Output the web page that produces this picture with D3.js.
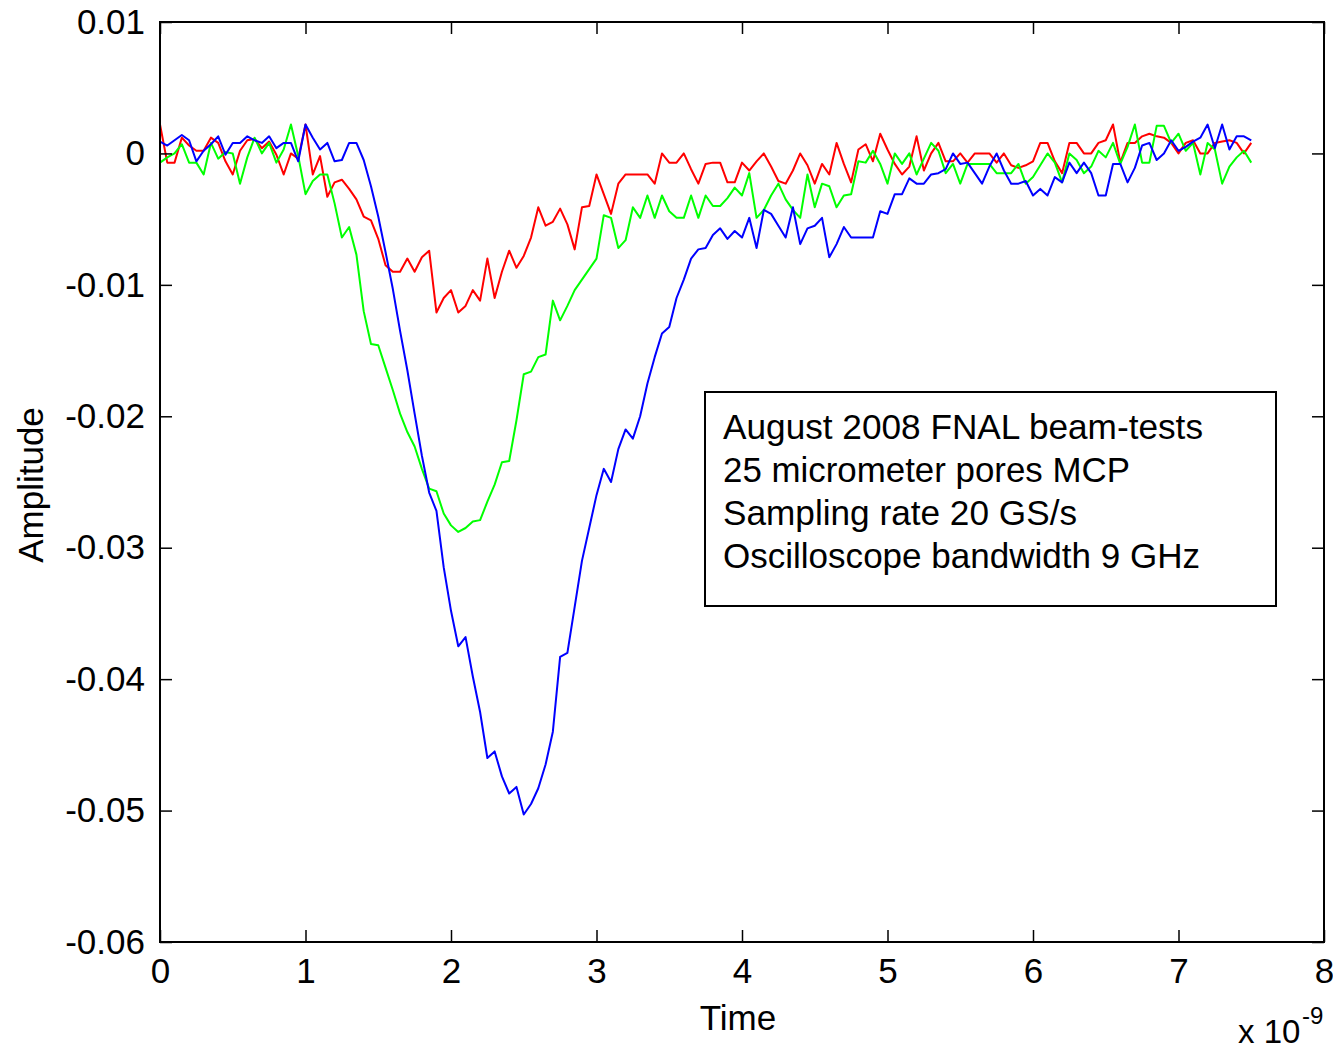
<!DOCTYPE html>
<html><head><meta charset="utf-8">
<script src="https://cdn.jsdelivr.net/npm/d3@7"></script>
<style>
body{margin:0;background:#fff}
svg{display:block}
text{font-family:"Liberation Sans",Arial,sans-serif;fill:#000}
</style>
</head><body>
<svg id="chart" width="1333" height="1052"></svg>
<script>
// ---- data ----
const sampleIntervalNs = 0.05; // 20 GS/s
const xTickValues = [0,1,2,3,4,5,6,7,8];
const yTickValues = [-0.06,-0.05,-0.04,-0.03,-0.02,-0.01,0,0.01];
const legendLines = ["August 2008 FNAL beam-tests","25 micrometer pores MCP","Sampling rate 20 GS/s","Oscilloscope bandwidth 9 GHz"];
const seriesColors = ["#ff0000","#00ff00","#0000ff"];

const redValues = [0.0022,-0.0007,-0.0007,0.0012,0.0006,0.0002,0.0002,0.0012,0.0008,-0.0006,
 -0.0016,0.0002,0.0010,0.0011,0.0004,0.0009,-0.0001,-0.0016,0.0000,-0.0004,
 0.0022,-0.0016,-0.0002,-0.0033,-0.0022,-0.0020,-0.0027,-0.0035,-0.0048,-0.0051,
 -0.0065,-0.0085,-0.0090,-0.0090,-0.0080,-0.0090,-0.0079,-0.0074,-0.0121,-0.0110,
 -0.0104,-0.0121,-0.0116,-0.0104,-0.0112,-0.0080,-0.0110,-0.0090,-0.0074,-0.0087,
 -0.0078,-0.0064,-0.0041,-0.0055,-0.0052,-0.0042,-0.0054,-0.0073,-0.0041,-0.0040,
 -0.0016,-0.0031,-0.0046,-0.0023,-0.0016,-0.0016,-0.0016,-0.0016,-0.0023,0.0000,
 -0.0007,-0.0007,0.0000,-0.0012,-0.0023,-0.0008,-0.0007,-0.0007,-0.0022,-0.0022,
 -0.0007,-0.0013,-0.0006,0.0000,-0.0010,-0.0021,-0.0023,-0.0013,0.0000,-0.0009,
 -0.0023,-0.0008,-0.0016,0.0008,-0.0008,-0.0022,0.0003,0.0007,-0.0006,0.0015,
 0.0003,-0.0008,-0.0016,-0.0010,0.0013,-0.0013,0.0000,0.0008,-0.0006,-0.0006,
 0.0000,-0.0007,0.0000,0.0000,0.0000,-0.0007,0.0000,-0.0009,-0.0011,-0.0009,
 -0.0006,0.0008,0.0008,-0.0006,-0.0015,0.0008,0.0008,0.0000,0.0000,0.0008,
 0.0010,0.0022,-0.0007,0.0008,0.0008,0.0013,0.0015,0.0013,0.0012,0.0008,
 0.0000,0.0008,0.0010,0.0000,0.0000,0.0008,0.0009,0.0010,0.0008,0.0000,
 0.0008];

const greenValues = [-0.0007,-0.0003,0.0000,0.0007,-0.0007,-0.0007,-0.0016,0.0008,-0.0004,0.0001,
 0.0000,-0.0023,-0.0003,0.0012,0.0000,0.0008,-0.0007,0.0003,0.0022,-0.0002,
 -0.0031,-0.0021,-0.0016,-0.0016,-0.0038,-0.0064,-0.0056,-0.0077,-0.0120,-0.0145,
 -0.0146,-0.0163,-0.0180,-0.0198,-0.0212,-0.0223,-0.0240,-0.0255,-0.0257,-0.0274,
 -0.0283,-0.0288,-0.0285,-0.0280,-0.0279,-0.0265,-0.0252,-0.0235,-0.0234,-0.0203,
 -0.0168,-0.0166,-0.0155,-0.0153,-0.0112,-0.0127,-0.0116,-0.0104,-0.0096,-0.0088,
 -0.0080,-0.0047,-0.0049,-0.0072,-0.0066,-0.0041,-0.0049,-0.0032,-0.0049,-0.0032,
 -0.0044,-0.0049,-0.0049,-0.0032,-0.0049,-0.0032,-0.0040,-0.0040,-0.0034,-0.0026,
 -0.0032,-0.0015,-0.0049,-0.0043,-0.0032,-0.0023,-0.0035,-0.0043,-0.0049,-0.0016,
 -0.0041,-0.0023,-0.0025,-0.0041,-0.0032,-0.0031,-0.0006,-0.0007,0.0002,-0.0008,
 -0.0023,0.0000,-0.0008,0.0000,-0.0016,-0.0004,0.0008,0.0002,-0.0015,-0.0008,
 -0.0023,-0.0008,-0.0008,-0.0008,-0.0008,-0.0015,-0.0015,-0.0015,-0.0008,-0.0023,
 -0.0018,-0.0009,0.0000,-0.0007,-0.0022,0.0000,-0.0005,-0.0015,-0.0010,0.0002,
 -0.0003,0.0008,-0.0008,0.0005,0.0022,-0.0007,-0.0007,0.0021,0.0021,0.0008,
 0.0015,0.0002,0.0008,-0.0016,0.0008,0.0003,-0.0023,-0.0010,-0.0003,0.0002,
 -0.0007];

const blueValues = [0.0009,0.0006,0.0010,0.0014,0.0010,-0.0006,0.0002,0.0007,0.0013,-0.0001,
 0.0008,0.0008,0.0013,0.0010,0.0008,0.0013,0.0004,0.0008,0.0008,-0.0006,
 0.0022,0.0012,0.0003,0.0008,-0.0006,-0.0005,0.0008,0.0008,-0.0005,-0.0025,
 -0.0048,-0.0075,-0.0103,-0.0135,-0.0165,-0.0198,-0.0230,-0.0258,-0.0272,-0.0315,
 -0.0348,-0.0375,-0.0368,-0.0398,-0.0425,-0.0460,-0.0455,-0.0474,-0.0487,-0.0482,
 -0.0503,-0.0495,-0.0483,-0.0465,-0.0440,-0.0383,-0.0380,-0.0345,-0.0310,-0.0285,
 -0.0260,-0.0240,-0.0250,-0.0225,-0.0210,-0.0217,-0.0200,-0.0175,-0.0155,-0.0137,
 -0.0132,-0.0110,-0.0096,-0.0080,-0.0073,-0.0072,-0.0062,-0.0057,-0.0065,-0.0059,
 -0.0064,-0.0049,-0.0072,-0.0043,-0.0046,-0.0055,-0.0064,-0.0041,-0.0069,-0.0057,
 -0.0055,-0.0049,-0.0079,-0.0069,-0.0056,-0.0064,-0.0064,-0.0064,-0.0064,-0.0044,
 -0.0046,-0.0031,-0.0031,-0.0019,-0.0023,-0.0023,-0.0016,-0.0015,-0.0012,0.0000,
 -0.0008,-0.0007,-0.0015,-0.0023,-0.0010,0.0000,-0.0013,-0.0023,-0.0023,-0.0021,
 -0.0032,-0.0027,-0.0032,-0.0018,-0.0022,-0.0007,-0.0015,-0.0007,-0.0015,-0.0032,
 -0.0032,-0.0008,-0.0008,-0.0022,-0.0011,0.0006,0.0008,-0.0005,0.0000,0.0010,
 0.0002,0.0005,0.0009,0.0012,0.0022,0.0004,0.0022,0.0003,0.0013,0.0013,
 0.0010];

// ---- layout ----
const svg = d3.select("#chart");
const L = 160, R = 1324, T = 22, B = 942;
const x = d3.scaleLinear().domain([0, 8]).range([L, R]);
const y = d3.scaleLinear().domain([-0.06, 0.01]).range([B, T]);
const FS = 35;

svg.append("rect").attr("width",1333).attr("height",1052).attr("fill","#fff");

// data lines
const series = [redValues, greenValues, blueValues];
const line = d3.line().x((d,i) => x(i * sampleIntervalNs)).y(d => y(d));
series.forEach((vals, k) => {
  svg.append("path").datum(vals)
    .attr("d", line)
    .attr("fill","none")
    .attr("stroke", seriesColors[k])
    .attr("stroke-width", 2)
    .attr("stroke-linejoin","round");
});

// axes
const fmtY = d => d === 0 ? "0" : d.toFixed(2);
const gB = svg.append("g").attr("transform",`translate(0,${B})`)
  .call(d3.axisBottom(x).tickValues(xTickValues).tickFormat(d3.format("d")).tickSizeInner(-12).tickSizeOuter(0).tickPadding(16));
const gT = svg.append("g").attr("transform",`translate(0,${T})`)
  .call(d3.axisTop(x).tickValues(xTickValues).tickFormat("").tickSizeInner(-12).tickSizeOuter(0));
const gL = svg.append("g").attr("transform",`translate(${L},0)`)
  .call(d3.axisLeft(y).tickValues(yTickValues).tickFormat(fmtY).tickSizeInner(-12).tickSizeOuter(0).tickPadding(15));
const gR = svg.append("g").attr("transform",`translate(${R},0)`)
  .call(d3.axisRight(y).tickValues(yTickValues).tickFormat("").tickSizeInner(-12).tickSizeOuter(0));
[gB,gT,gL,gR].forEach(g => {
  g.select(".domain").remove();
  g.selectAll(".tick line").attr("stroke","#000").attr("stroke-width",1.5);
  g.selectAll("text").attr("font-size", FS).attr("font-family","Liberation Sans, Arial, sans-serif").attr("fill","#000");
});

// box
svg.append("rect").attr("x",L).attr("y",T).attr("width",R-L).attr("height",B-T)
  .attr("fill","none").attr("stroke","#000").attr("stroke-width",2);

// axis titles
svg.append("text").attr("x",738).attr("y",1030).attr("text-anchor","middle").attr("font-size",FS).text("Time");
svg.append("text").attr("transform","translate(43,485) rotate(-90)").attr("text-anchor","middle").attr("font-size",FS).text("Amplitude");
svg.append("text").attr("x",1238).attr("y",1043).attr("font-size",33).text("x 10");
svg.append("text").attr("x",1302).attr("y",1024).attr("font-size",24).text("-9");

// legend box
svg.append("rect").attr("x",705).attr("y",392).attr("width",571).attr("height",214)
  .attr("fill","#fff").attr("stroke","#000").attr("stroke-width",2);
const legendWidths = [480, 407, 354, 477];
legendLines.forEach((t,i) => {
  svg.append("text").attr("x",723).attr("y",439 + i*43).attr("font-size",FS)
    .attr("textLength", legendWidths[i]).attr("lengthAdjust","spacingAndGlyphs").text(t);
});
</script>
</body></html>
